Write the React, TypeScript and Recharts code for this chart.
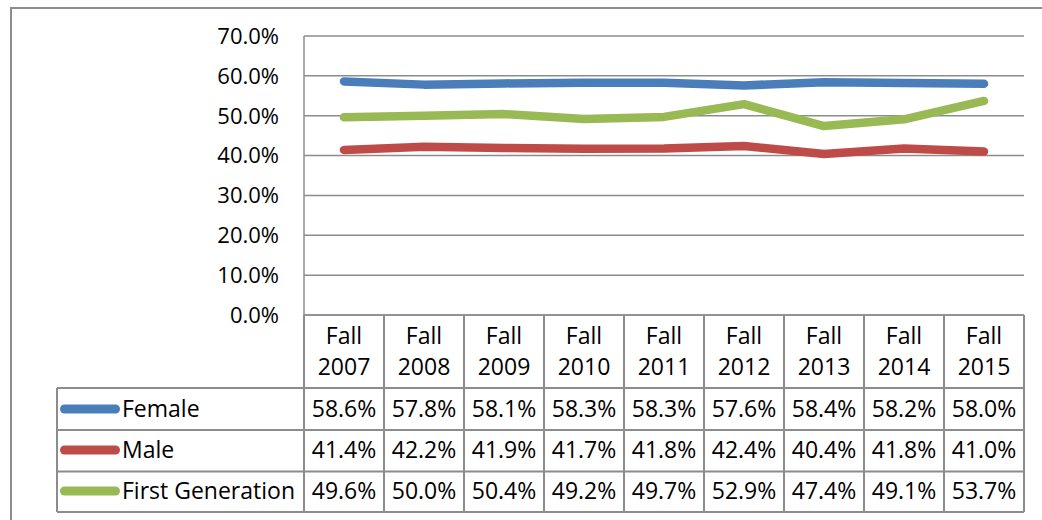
import React from 'react'
import { LineChart, Line, XAxis, YAxis, CartesianGrid } from 'recharts'

const terms = ['Fall 2007', 'Fall 2008', 'Fall 2009', 'Fall 2010', 'Fall 2011', 'Fall 2012', 'Fall 2013', 'Fall 2014', 'Fall 2015']
const female = [58.6, 57.8, 58.1, 58.3, 58.3, 57.6, 58.4, 58.2, 58.0]
const male = [41.4, 42.2, 41.9, 41.7, 41.8, 42.4, 40.4, 41.8, 41.0]
const firstGen = [49.6, 50.0, 50.4, 49.2, 49.7, 52.9, 47.4, 49.1, 53.7]
const yTicks = [0, 10, 20, 30, 40, 50, 60, 70]

const SERIES = [
  { key: 'female', name: 'Female', color: '#4a7ebb', values: female },
  { key: 'male', name: 'Male', color: '#be4b48', values: male },
  { key: 'firstGen', name: 'First Generation', color: '#98b954', values: firstGen },
]

const data = terms.map((term, i) => ({
  term,
  female: female[i],
  male: male[i],
  firstGen: firstGen[i],
}))

const FONT = '"Open Sans", sans-serif'
const BORDER = '#8c8c8c'
const HALF = 40
// row lines below the axis, relative to axis y
const ROW_LINES = [73, 115, 156.5, 197]
const ROW_BASE = [102, 143, 184]
const LEGEND_LEFT = 57

const pct = (v: number) => `${v.toFixed(1)}%`

// one table column drawn per category tick
// eslint-disable-next-line @typescript-eslint/no-explicit-any
function TableTick(props: any) {
  const { x, y, payload } = props
  const index = props.index ?? payload.index ?? 0
  const [fall, year] = String(payload.value).split(' ')
  const bottom = y + ROW_LINES[ROW_LINES.length - 1]
  return (
    <g style={{ fontFamily: FONT }}>
      <text x={x} y={y + 29} textAnchor="middle" fontSize={23} fill="#000">{fall}</text>
      <text x={x} y={y + 60} textAnchor="middle" fontSize={23} fill="#000">{year}</text>
      {SERIES.map((s, r) => (
        <text key={s.key} x={x} y={y + ROW_BASE[r]} textAnchor="middle" fontSize={23} fill="#000">
          {pct(s.values[index])}
        </text>
      ))}
      {ROW_LINES.map((dy) => (
        <line key={dy} x1={x - HALF} x2={x + HALF} y1={y + dy} y2={y + dy} stroke={BORDER} strokeWidth={2} />
      ))}
      <line x1={x + HALF} x2={x + HALF} y1={y} y2={bottom} stroke={BORDER} strokeWidth={2} />
      {index === 0 && (
        <g>
          <line x1={x - HALF} x2={x - HALF} y1={y} y2={bottom} stroke={BORDER} strokeWidth={2} />
          <line x1={LEGEND_LEFT} x2={LEGEND_LEFT} y1={y + ROW_LINES[0]} y2={bottom} stroke={BORDER} strokeWidth={2} />
          {ROW_LINES.map((dy) => (
            <line key={dy} x1={LEGEND_LEFT} x2={x - HALF} y1={y + dy} y2={y + dy} stroke={BORDER} strokeWidth={2} />
          ))}
          {SERIES.map((s, r) => (
            <g key={s.key}>
              <line
                x1={LEGEND_LEFT + 7.5}
                x2={LEGEND_LEFT + 58.5}
                y1={y + ROW_BASE[r] - 8}
                y2={y + ROW_BASE[r] - 8}
                stroke={s.color}
                strokeWidth={9}
                strokeLinecap="round"
              />
              <text x={LEGEND_LEFT + 65} y={y + ROW_BASE[r]} fontSize={23} fill="#000">{s.name}</text>
            </g>
          ))}
        </g>
      )}
    </g>
  )
}

export default function App() {
  return (
    <div style={{ position: 'relative', width: 1042, height: 520, overflow: 'hidden', background: '#fff' }}>
      <style>{'body{margin:0}'}</style>
      <div
        style={{
          position: 'absolute',
          left: 10,
          top: 7,
          width: 1100,
          height: 600,
          borderLeft: `2px solid ${BORDER}`,
          borderTop: `2px solid ${BORDER}`,
        }}
      />
      <div style={{ position: 'absolute', left: 0, top: 0 }}>
        <LineChart
          width={1042}
          height={520}
          data={data}
          margin={{ top: 36, right: 18, bottom: 8, left: 244 }}
          style={{ fontFamily: FONT }}
        >
          <CartesianGrid vertical={false} stroke={BORDER} strokeWidth={1.5} />
          <XAxis
            dataKey="term"
            scale="point"
            padding={{ left: HALF, right: HALF }}
            interval={0}
            height={197}
            tickLine={false}
            tickSize={0}
            tickMargin={0}
            axisLine={{ stroke: BORDER, strokeWidth: 1.5 }}
            tick={<TableTick />}
          />
          <YAxis
            domain={[0, 70]}
            ticks={yTicks}
            width={60}
            tickSize={0}
            tickMargin={25}
            tickLine={false}
            axisLine={{ stroke: BORDER, strokeWidth: 1.5 }}
            tickFormatter={pct}
            tick={{ fontSize: 22, fill: '#000', fontFamily: FONT }}
          />
          {SERIES.map((s) => (
            <Line
              key={s.key}
              type="linear"
              dataKey={s.key}
              name={s.name}
              stroke={s.color}
              strokeWidth={8.5}
              strokeLinecap="round"
              strokeLinejoin="round"
              dot={false}
              activeDot={false}
              isAnimationActive={false}
            />
          ))}
        </LineChart>
      </div>
    </div>
  )
}
